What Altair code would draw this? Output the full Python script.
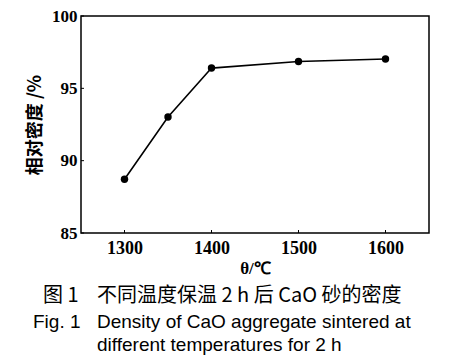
import altair as alt
import pandas as pd

temps = [1300, 1350, 1400, 1500, 1600]
density = [88.72, 93.02, 96.4, 96.85, 97.03]
x_ticks = [1300, 1400, 1500, 1600]
y_ticks = [85, 90, 95, 100]

cap_cn_label = "图 1"
cap_cn_text = "不同温度保温 2 h 后 CaO 砂的密度"
cap_en_label = "Fig. 1"
cap_en_line1 = "Density of CaO aggregate sintered at"
cap_en_line2 = "different temperatures for 2 h"

W, H = 348, 217
TOP = 8

df = pd.DataFrame({"T": temps, "D": density})
xs = alt.Scale(domain=[1250, 1650], nice=False, zero=False)
ys = alt.Scale(domain=[85, 100], nice=False, zero=False)

serif = "Liberation Serif"
cjk = "Noto Sans CJK SC"

base = alt.Chart(df)

frame = alt.Chart(pd.DataFrame({"a": [0]})).mark_rect(
    fill=None, fillOpacity=0, stroke="black", strokeWidth=1.5
).encode(x=alt.value(0), x2=alt.value(W), y=alt.value(0), y2=alt.value(H))

line = base.mark_line(color="black", strokeWidth=1.6).encode(
    x=alt.X("T:Q", scale=xs, axis=alt.Axis(
        values=x_ticks, title="θ/℃", ticks=False, domain=False, grid=False,
        labelFont=serif, labelFontSize=18, labelFontWeight="bold", labelColor="black",
        labelPadding=6, titleFont=serif, titleFontSize=17, titleFontWeight="bold",
        titleColor="black", titlePadding=3, format="d")),
    y=alt.Y("D:Q", scale=ys, axis=alt.Axis(
        values=y_ticks, title="相对密度 /%", ticks=False, domain=False, grid=False,
        labelFont=serif, labelFontSize=17, labelFontWeight="bold", labelColor="black",
        labelPadding=4, titleFont=cjk, titleFontSize=18, titleFontWeight="bold",
        titleColor="black", titlePadding=7)),
)
pts = base.mark_point(filled=True, color="black", size=55, opacity=1).encode(
    x=alt.X("T:Q", scale=xs), y=alt.Y("D:Q", scale=ys))

yt = alt.Chart(pd.DataFrame({"v": y_ticks})).mark_rule(color="black", strokeWidth=1).encode(
    y=alt.Y("v:Q", scale=ys), x=alt.value(0), x2=alt.value(3))
xt = alt.Chart(pd.DataFrame({"v": x_ticks})).mark_rule(color="black", strokeWidth=1).encode(
    x=alt.X("v:Q", scale=xs), y=alt.value(H), y2=alt.value(H - 3))

def txt(s, x, y, font, size):
    return alt.Chart(pd.DataFrame({"t": [s]})).mark_text(
        align="left", baseline="middle", font=font, fontSize=size, color="black"
    ).encode(text="t:N", x=alt.value(x), y=alt.value(y))

oy = 8 + TOP  # page y of plot top
ox = 8 + 73
caps = [
    txt(cap_cn_label, 43 - ox, 296 - oy, cjk, 20),
    txt(cap_cn_text, 97 - ox, 296 - oy, cjk, 20),
    txt(cap_en_label, 33 - ox, 322 - oy, "Liberation Sans", 19),
    txt(cap_en_line1, 97 - ox, 322 - oy, "Liberation Sans", 19),
    txt(cap_en_line2, 97 - ox, 345 - oy, "Liberation Sans", 19),
]

chart = alt.layer(frame, line, pts, yt, xt, *caps).properties(
    width=W, height=H, background="white",
    autosize=alt.AutoSizeParams(type="none"),
    padding={"left": 73, "top": TOP, "right": 27, "bottom": 352 - TOP - H},
).configure_view(stroke=None)

chart.save("out.html", embed_options={"renderer": "svg", "actions": False})
